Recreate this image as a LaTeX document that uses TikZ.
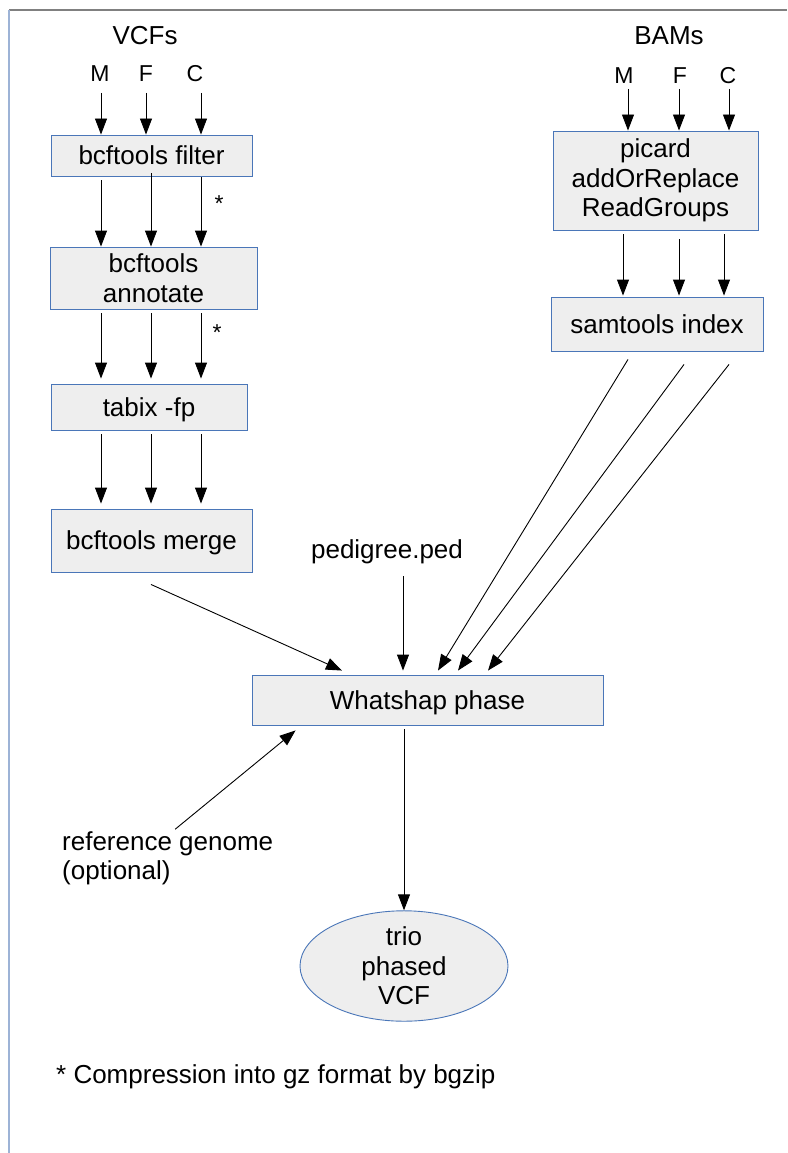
\documentclass[tikz,border=0pt]{standalone}
\usepackage{fontspec}
\setmainfont{Liberation Sans}
\usetikzlibrary{arrows.meta,shapes.geometric,calc}
\definecolor{boxblue}{HTML}{4A76B8}
\definecolor{boxgray}{HTML}{EEEEEE}
\definecolor{framegray}{HTML}{808080}
\definecolor{frameblue}{HTML}{9DB3D6}
\tikzset{
  box/.style={draw=boxblue, fill=boxgray, line width=0.9pt, inner sep=0pt, align=center, font=\fontsize{26pt}{29.5pt}\selectfont},
  oneline/.style={text height=23.5pt, text depth=5.5pt},
  lbl/.style={inner sep=0pt, font=\fontsize{26pt}{29.5pt}\selectfont},
  small/.style={inner sep=0pt, font=\fontsize{23pt}{27pt}\selectfont},
  arr/.style={line width=0.9pt, -{Triangle[length=16pt,width=12pt]}},
}
\begin{document}
\begin{tikzpicture}[x=1pt,y=-1pt]
\useasboundingbox (0,0) rectangle (787,1153);
\draw[framegray, line width=1.5pt] (9,10) -- (787,10);
\draw[frameblue, line width=2pt] (9,10) -- (9,1153);

% headings
\node[lbl, anchor=base] (vcfs) at (145,45) {VCFs};
\node[lbl, anchor=base] (bams) at (669,45) {BAMs};
\node[small, anchor=base] (vM) at (100,82) {M};
\node[small, anchor=base] (vF) at (146,82) {F};
\node[small, anchor=base] (vC) at (195,82) {C};
\node[small, anchor=base] (bM) at (624,84) {M};
\node[small, anchor=base] (bF) at (680,84) {F};
\node[small, anchor=base] (bC) at (728,84) {C};

% boxes
\node[box, oneline, minimum width=201pt, minimum height=41pt] (filter) at (151.5,155.5) {bcftools filter};
\node[box, minimum width=207pt, minimum height=62pt] (annot) at (153.5,278) {bcftools\\annotate};
\node[box, oneline, minimum width=196pt, minimum height=46pt] (tabix) at (149,407) {tabix -fp};
\node[box, oneline, minimum width=201pt, minimum height=63pt] (merge) at (151.5,540.5) {bcftools merge};
\node[box, minimum width=205pt, minimum height=99pt] (picard) at (655.5,180.5) {picard\\addOrReplace\\ReadGroups};
\node[box, oneline, minimum width=212pt, minimum height=54pt] (sam) at (657,324) {samtools index};
\node[box, oneline, minimum width=351pt, minimum height=50pt] (what) at (427.5,700) {Whatshap phase};
\node[box, ellipse, minimum width=208pt, minimum height=108pt] (out) at (404,966) {trio\\phased\\VCF};

% other labels
\node[lbl, anchor=base] (ped) at (387,558) {pedigree.ped};
\node[lbl, anchor=west, align=left] (ref) at (62,858.25) {reference genome\\(optional)};
\node[lbl, anchor=base west] (note) at (56,1083) {* Compression into gz format by bgzip};
\node[small, anchor=base] (s1) at (219,211) {*};
\node[small, anchor=base] (s2) at (217,340) {*};

% column coordinates
\coordinate (t1) at (101,93);
\coordinate (t2) at (146,93);
\coordinate (t3) at (201,93);
\coordinate (k1) at (101,0);
\coordinate (k2) at (151,0);
\coordinate (k3) at (201,0);
\coordinate (u1) at (628,89);
\coordinate (u2) at (679,89);
\coordinate (u3) at (729,89);
\coordinate (p1) at (623,0);
\coordinate (p2) at (679,0);
\coordinate (p3) at (724,0);

% VCF chain
\draw[arr] (t1) -- (filter.north -| t1);
\draw[arr] (t2) -- (filter.north -| t2);
\draw[arr] (t3) -- (filter.north -| t3);
\draw[arr, shorten <=4pt] (filter.south -| k1) -- (annot.north -| k1);
\draw[arr, shorten <=-3pt] (filter.south -| k2) -- (annot.north -| k2);
\draw[arr, shorten <=1pt] (filter.south -| k3) -- (annot.north -| k3);
\draw[arr, shorten <=4pt, shorten >=5pt] (annot.south -| k1) -- (tabix.north -| k1);
\draw[arr, shorten <=4pt, shorten >=5pt] (annot.south -| k2) -- (tabix.north -| k2);
\draw[arr, shorten <=4pt, shorten >=5pt] (annot.south -| k3) -- (tabix.north -| k3);
\draw[arr, shorten <=4pt, shorten >=5pt] (tabix.south -| k1) -- (merge.north -| k1);
\draw[arr, shorten <=4pt, shorten >=5pt] (tabix.south -| k2) -- (merge.north -| k2);
\draw[arr, shorten <=4pt, shorten >=5pt] (tabix.south -| k3) -- (merge.north -| k3);

% BAM chain
\draw[arr] (u1) -- (picard.north -| u1);
\draw[arr] (u2) -- (picard.north -| u2);
\draw[arr] (u3) -- (picard.north -| u3);
\draw[arr, shorten <=4pt, shorten >=1pt] (picard.south -| p1) -- (sam.north -| p1);
\draw[arr, shorten <=9pt, shorten >=1pt] (picard.south -| p2) -- (sam.north -| p2);
\draw[arr, shorten <=4pt, shorten >=1pt] (picard.south -| p3) -- (sam.north -| p3);

% into Whatshap
\draw[arr] ([xshift=-0.5pt,yshift=-12pt]merge.south) -- ([xshift=-85.5pt,yshift=4pt]what.north);
\draw[arr] ([xshift=16pt,yshift=-12.5pt]ped.south) -- ([xshift=-24.5pt,yshift=4pt]what.north);
\draw[arr] ([xshift=-29pt,yshift=-8pt]sam.south) -- ([xshift=10.5pt,yshift=4pt]what.north);
\draw[arr] ([xshift=27pt,yshift=-13pt]sam.south) -- ([xshift=30.5pt,yshift=4pt]what.north);
\draw[arr] ([xshift=72pt,yshift=-13pt]sam.south) -- ([xshift=60.5pt,yshift=4pt]what.north);
\draw[arr] ([xshift=7.5pt,yshift=2pt]ref.north) -- ([xshift=44pt,yshift=-5pt]what.south west);

% output
\draw[arr, shorten <=4pt] (what.south -| out.north) -- (out.north);
\end{tikzpicture}
\end{document}
